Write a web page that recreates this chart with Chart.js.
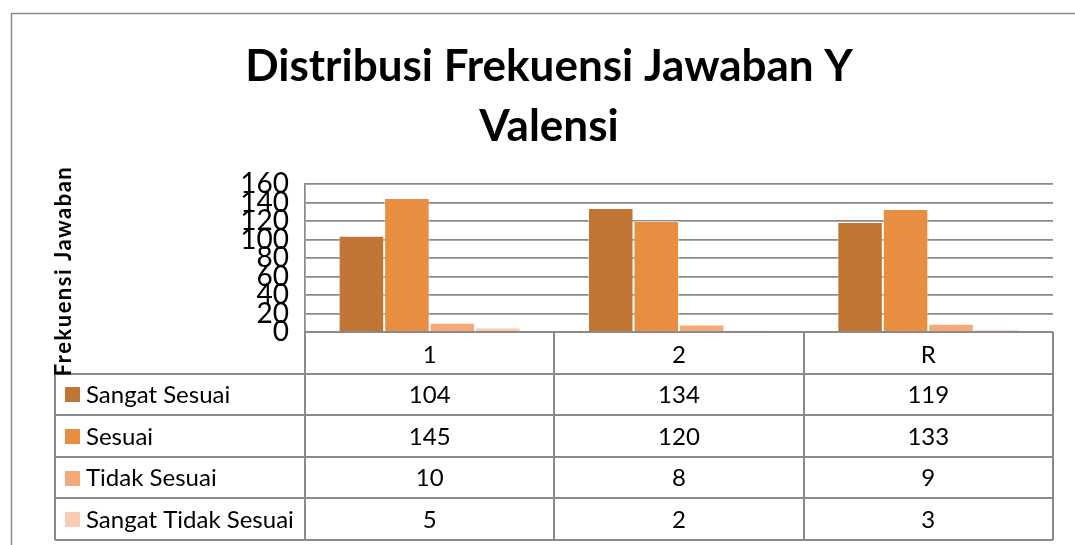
<!DOCTYPE html>
<html>
<head>
<meta charset="utf-8">
<script src="https://cdn.jsdelivr.net/npm/chart.js@4.4.1/dist/chart.umd.min.js"></script>
<style>
    html, body { margin: 0; padding: 0; background: #fff; }
    canvas { display: block; }
</style>
</head>
<body>
<canvas id="chart" width="1075" height="545"></canvas>
<script>
// data
const categories = ['1', '2', 'R']
const seriesNames = ['Sangat Sesuai', 'Sesuai', 'Tidak Sesuai', 'Sangat Tidak Sesuai']
const sangatSesuai = [104, 134, 119]
const sesuai = [145, 120, 133]
const tidakSesuai = [10, 8, 9]
const sangatTidakSesuai = [5, 2, 3]
const yTicks = [0, 20, 40, 60, 80, 100, 120, 140, 160]

const colors = ['#C07535', '#E88E41', '#F5A878', '#F8CCB2']
const lineGray = '#8a8a8a'
const fontName = 'Lato, "Open Sans", sans-serif'

const seriesValues = [sangatSesuai, sesuai, tidakSesuai, sangatTidakSesuai]

const dataTable = {
    id: 'dataTable',
    afterDraw(chart) {
        const ctx = chart.ctx
        const x = chart.scales.x
        const area = chart.chartArea
        const tableLeft = 55
        const rowH = (x.bottom - area.bottom) / (seriesNames.length + 1)
        const colEdges = [x.left]
        for (let i = 0; i < categories.length; i++) {
            colEdges.push(x.getPixelForValue(i + 0.5))
        }

        ctx.save()
        ctx.strokeStyle = lineGray
        ctx.lineWidth = 2

        // horizontal lines
        ctx.beginPath()
        ctx.moveTo(colEdges[0], area.bottom)
        ctx.lineTo(colEdges[colEdges.length - 1], area.bottom)
        for (let r = 1; r <= seriesNames.length + 1; r++) {
            const y = Math.round(area.bottom + r * rowH)
            ctx.moveTo(tableLeft, y)
            ctx.lineTo(colEdges[colEdges.length - 1], y)
        }
        // vertical lines
        ctx.moveTo(tableLeft, Math.round(area.bottom + rowH))
        ctx.lineTo(tableLeft, x.bottom)
        colEdges.forEach(cx => {
            ctx.moveTo(Math.round(cx), area.bottom)
            ctx.lineTo(Math.round(cx), x.bottom)
        })
        ctx.stroke()

        // rows: legend key, name, values
        ctx.textBaseline = 'middle'
        ctx.font = '24px ' + fontName
        for (let s = 0; s < seriesNames.length; s++) {
            const cy = area.bottom + (s + 1.5) * rowH
            ctx.fillStyle = colors[s]
            ctx.fillRect(65, Math.round(cy - 7), 15, 15)
            ctx.fillStyle = '#000'
            ctx.textAlign = 'left'
            ctx.fillText(seriesNames[s], 86, cy + 1)
            ctx.textAlign = 'center'
            for (let i = 0; i < categories.length; i++) {
                ctx.fillText(String(seriesValues[s][i]), x.getPixelForValue(i), cy + 1)
            }
        }

        // y axis title
        ctx.translate(64, 271)
        ctx.rotate(-Math.PI / 2)
        ctx.font = 'bold 22px ' + fontName
        ctx.letterSpacing = '1.5px'
        ctx.textAlign = 'center'
        ctx.fillText('Frekuensi Jawaban', 0, 0)
        ctx.restore()
    },
    beforeDraw(chart) {
        const ctx = chart.ctx
        ctx.save()
        ctx.fillStyle = '#fff'
        ctx.fillRect(0, 0, chart.width, chart.height)
        ctx.strokeStyle = lineGray
        ctx.lineWidth = 1.5
        ctx.beginPath()
        ctx.moveTo(11.5, chart.height)
        ctx.lineTo(11.5, 13.5)
        ctx.lineTo(chart.width, 13.5)
        ctx.stroke()
        ctx.restore()
    }
}

new Chart(document.getElementById('chart'), {
    type: 'bar',
    data: {
        labels: categories,
        datasets: seriesNames.map((name, i) => ({
            label: name,
            data: seriesValues[i],
            backgroundColor: colors[i],
            borderColor: 'rgba(255,255,255,0.45)',
            borderWidth: 1,
            categoryPercentage: 0.73,
            barPercentage: 1
        }))
    },
    options: {
        responsive: false,
        animation: false,
        layout: { padding: { left: 45, right: 22, top: 0, bottom: 5 } },
        plugins: {
            legend: { display: false },
            tooltip: { enabled: false },
            title: {
                display: true,
                text: ['Distribusi Frekuensi Jawaban Y', 'Valensi'],
                color: '#000',
                font: { family: fontName, size: 44, weight: 'bold', lineHeight: 60 / 44 },
                padding: { top: 37, bottom: 27 }
            }
        },
        scales: {
            x: {
                grid: { display: false, drawTicks: false },
                border: { display: false },
                ticks: { color: '#000', font: { family: fontName, size: 24 }, padding: 9 },
                afterFit(scale) { scale.height = 208 }
            },
            y: {
                min: 0,
                max: 160,
                afterBuildTicks(scale) { scale.ticks = yTicks.map(v => ({ value: v })) },
                grid: { color: lineGray, lineWidth: 1.7, drawTicks: false },
                border: { display: true, color: lineGray, width: 1.7 },
                ticks: { color: '#000', font: { family: fontName, size: 28, lineHeight: 1 }, padding: 16, autoSkip: false },
                afterFit(scale) { scale.width = 260 }
            }
        }
    },
    plugins: [dataTable]
})
</script>
</body>
</html>
